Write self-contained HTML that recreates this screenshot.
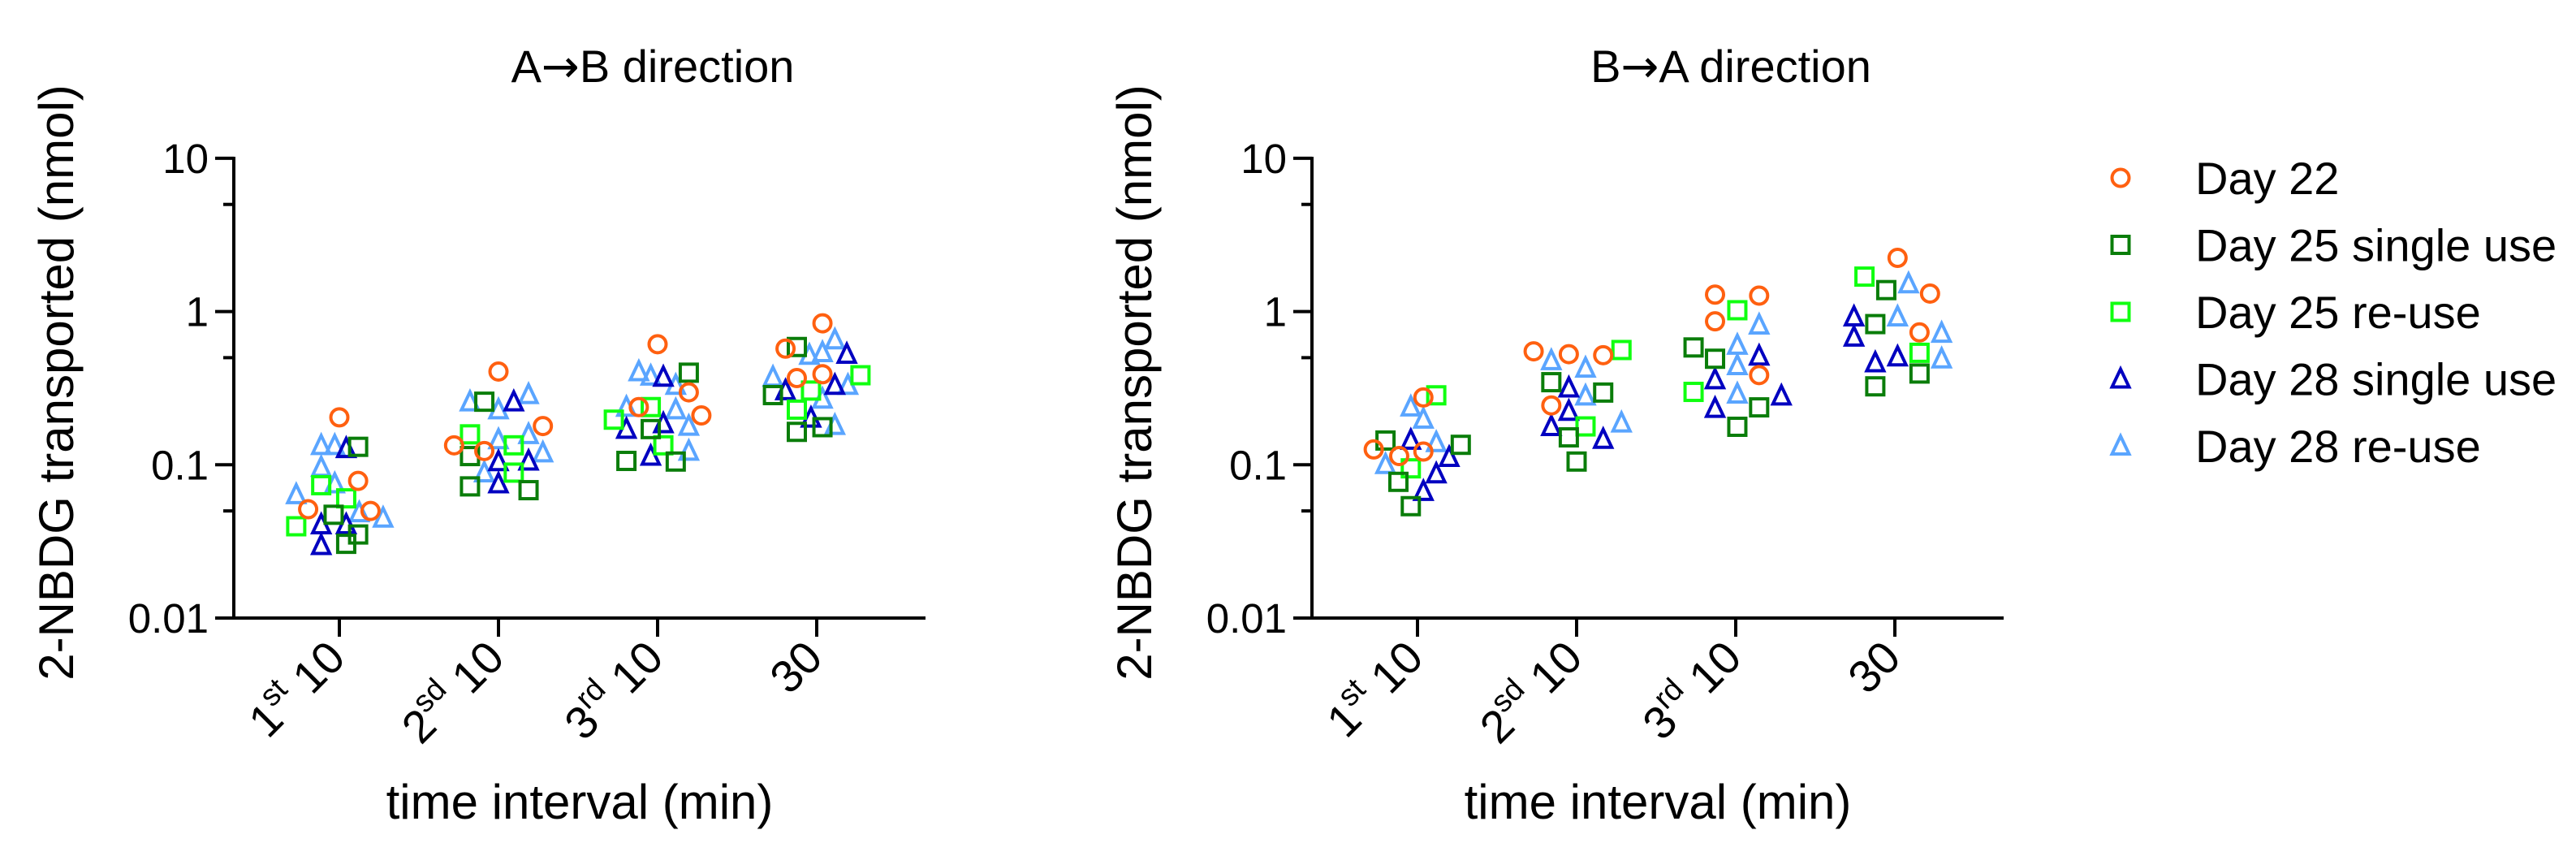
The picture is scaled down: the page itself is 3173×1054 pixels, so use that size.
<!DOCTYPE html>
<html><head><meta charset="utf-8"><style>
html,body{margin:0;padding:0;background:#fff;}
svg{display:block;font-family:"Liberation Sans",Arial,sans-serif;}
</style></head><body>
<svg id="chart" width="3173" height="1054" viewBox="0 0 3173 1054" xmlns="http://www.w3.org/2000/svg"></svg>
<script>
const categories = ['1st 10','2sd 10','3rd 10','30'];
const catBase = ['1','2','3','30'];
const catSup = ['st','sd','rd',''];
const seriesNames = ['Day 22','Day 25 single use','Day 25 re-use','Day 28 single use','Day 28 re-use'];
const seriesColors = ['#ff6010','#0a7d0a','#10ff10','#0000c0','#5aa5ff'];
const seriesShapes = ['circle','square','square','triangle','triangle'];
const yTicks = [10,1,0.1,0.01];
const yTickLabels = ['10','1','0.1','0.01'];

// A->B values (per category)
const abDay22 = [[0.204,0.0513,0.0785,0.050],[0.406,0.134,0.123,0.179],[0.612,0.238,0.297,0.210],[0.838,0.573,0.368,0.390]];
const abDay25s = [[0.131,0.0472,0.0305,0.0351],[0.258,0.114,0.0723,0.0683],[0.399,0.171,0.106,0.105],[0.587,0.285,0.164,0.176]];
const abDay25r = [[0.0736,0.0604,0.0397],[0.158,0.134,0.0889],[0.197,0.238,0.134],[0.384,0.305,0.229]];
const abDay28s = [[0.128,0.0407,0.0407,0.0298],[0.258,0.105,0.0753,0.106],[0.374,0.171,0.186,0.114],[0.528,0.305,0.331,0.202]];
const abDay28r = [[0.134,0.134,0.0964,0.064,0.0753,0.0488,0.045],[0.258,0.229,0.288,0.146,0.158,0.120,0.0889],[0.406,0.380,0.331,0.238,0.229,0.179,0.123],[0.655,0.541,0.520,0.374,0.331,0.269,0.181]];
// A->B jitter (fraction of category spacing)
const abJit22 = [[0,-0.196,0.118,0.196],[0,-0.279,-0.089,0.279],[0,-0.118,0.196,0.275],[0.036,-0.196,-0.125,0.036]];
const abJit25s = [[0.118,-0.036,0.043,0.118],[-0.089,-0.179,-0.179,0.189],[0.196,-0.043,-0.196,0.114],[-0.125,-0.275,-0.125,0.036]];
const abJit25r = [[-0.114,0.043,-0.271],[-0.179,0.096,0.096],[-0.275,-0.043,0.036],[0.275,-0.036,-0.125]];
const abJit28s = [[0.043,-0.114,0.043,-0.114],[0.096,0,0,0.189],[0.036,-0.196,0.036,-0.043],[0.189,-0.196,0.114,-0.036]];
const abJit28r = [[-0.114,-0.029,-0.114,-0.271,-0.029,0.125,0.275],[-0.179,0,0.189,0,0.189,0.279,-0.089],[-0.118,-0.043,0.114,-0.196,0.114,0.196,0.196],[0.114,0.036,-0.046,-0.275,0.196,0.036,0.114]];

// B->A values
const baDay22 = [[0.275,0.126,0.114,0.122],[0.550,0.527,0.519,0.244],[1.29,1.27,0.863,0.385],[2.24,1.31,0.731]];
const baDay25s = [[0.144,0.135,0.0774,0.0537],[0.346,0.296,0.151,0.105],[0.583,0.492,0.237,0.177],[1.38,0.828,0.394,0.325]];
const baDay25r = [[0.284,0.0948],[0.561,0.178],[1.02,0.299],[1.69,0.538]];
const baDay28s = [[0.145,0.112,0.0875,0.0672],[0.318,0.224,0.178,0.147],[0.513,0.360,0.234,0.282],[0.925,0.683,0.507,0.464]];
const baDay28r = [[0.239,0.199,0.140,0.1007],[0.479,0.428,0.282,0.188],[0.819,0.604,0.445,0.290],[1.52,0.925,0.724,0.492]];
const baJit22 = [[0.037,-0.275,-0.115,0.037],[-0.270,-0.049,0.167,-0.159],[-0.130,0.147,-0.130,0.147],[0.017,0.221,0.155]];
const baJit25s = [[-0.201,0.272,-0.120,-0.042],[-0.159,0.167,-0.049,0],[-0.265,-0.130,0.147,0.010],[-0.054,-0.123,0.155,-0.123]];
const baJit25r = [[0.118,-0.042],[0.282,0.056],[0.010,-0.265],[-0.191,0.155]];
const baJit28s = [[-0.042,0.199,0.118,0.037],[-0.049,-0.049,-0.159,0.167],[0.147,-0.130,-0.130,0.287],[-0.257,-0.257,0.017,-0.123]];
const baJit28r = [[-0.042,0.037,0.118,-0.201],[-0.159,0.056,0.056,0.282],[0.147,0.010,0.010,0.010],[0.086,0.017,0.294,0.294]];

const NS='http://www.w3.org/2000/svg';
const svg=document.getElementById('chart');
function mk(tag,attrs,parent){const e=document.createElementNS(NS,tag);for(const k in attrs)e.setAttribute(k,attrs[k]);(parent||svg).appendChild(e);return e;}

const yTop=195, decade=188.7, yBottom=761, catStep=196;
function yScale(v){return yBottom-(Math.log10(v)+2)*decade;}

function drawMarker(g,shape,color,cx,cy){
  let m;
  if(shape==='circle'){m=mk('circle',{cx:cx,cy:cy,r:10.5,fill:'none',stroke:color,'stroke-width':4},g);}
  else if(shape==='square'){m=mk('rect',{x:cx-10.5,y:cy-10.5,width:21,height:21,fill:'none',stroke:color,'stroke-width':4},g);}
  else{m=mk('polygon',{points:(cx)+','+(cy-12)+' '+(cx+10.5)+','+(cy+10)+' '+(cx-10.5)+','+(cy+10),fill:'none',stroke:color,'stroke-width':4,'stroke-linejoin':'miter'},g);}
  return m;
}

function drawPanel(ox,titleA,titleB,vals,jits,key){
  const g=mk('g',{});
  
  
  const axX=ox, axEnd=ox+852;
  const xScale=(i)=>ox+130+i*catStep;
  // title
  const t=mk('text',{x:ox+516,y:101,'font-size':56,'text-anchor':'middle',fill:'#000'},g);
  const ta=mk('tspan',{},t); ta.textContent=titleA;
  const tb=mk('tspan',{'font-family':'DejaVu Sans, sans-serif','font-size':56},t); tb.textContent='\u2192';
  const tc=mk('tspan',{},t); tc.textContent=titleB;
  
  
  // y axis
  const ya=mk('line',{x1:axX,y1:yTop-2,x2:axX,y2:yBottom+2,stroke:'#000','stroke-width':4},g);
  
  
  yTicks.forEach((v,i)=>{
    const y=yScale(v);
    mk('line',{x1:axX-23,y1:y,x2:axX,y2:y,stroke:'#000','stroke-width':4},g);
    const lb=mk('text',{x:axX-31,y:y+18,'font-size':51,'text-anchor':'end',fill:'#000'},g);
    lb.textContent=yTickLabels[i];
    
    
    if(i<yTicks.length-1){
      const ym=yScale(v/2);
      mk('line',{x1:axX-13,y1:ym,x2:axX,y2:ym,stroke:'#000','stroke-width':4},g);
    }
  });
  const yt=mk('text',{transform:'translate('+(ox-198)+',471) rotate(-90)','font-size':60,'text-anchor':'middle',fill:'#000'},g);
  yt.textContent='2-NBDG transported (nmol)';
  
  
  // x axis
  const xa=mk('line',{x1:axX-23,y1:yBottom,x2:axEnd,y2:yBottom,stroke:'#000','stroke-width':4},g);
  
  
  categories.forEach((c,i)=>{
    const x=xScale(i);
    mk('line',{x1:x,y1:yBottom,x2:x,y2:yBottom+23,stroke:'#000','stroke-width':4},g);
    const lb=mk('text',{transform:'translate('+(x+10)+','+(yBottom+52)+') rotate(-45)','font-size':56,'text-anchor':'end',fill:'#000'},g);
    const t1=mk('tspan',{},lb); t1.textContent=catBase[i];
    if(catSup[i]){const t2=mk('tspan',{'font-size':38,dy:-24},lb); t2.textContent=catSup[i];
      const t3=mk('tspan',{dy:24},lb); t3.textContent=' 10';}
    
    
  });
  const xt=mk('text',{x:ox+426,y:1008,'font-size':60,'text-anchor':'middle',fill:'#000'},g);
  xt.textContent='time interval (min)';
  
  
  // points (drawn last series first so Day 22 is on top)
  for(let s=vals.length-1;s>=0;s--){
    const sg=mk('g',{},g);
    
    
    vals[s].forEach((arr,ci)=>{
      arr.forEach((v,k)=>{
        const m=drawMarker(sg,seriesShapes[s],seriesColors[s],xScale(ci)+jits[s][ci][k]*catStep,yScale(v));
        
        
      });
    });
  }
}

drawPanel(288,'A','B direction',[abDay22,abDay25s,abDay25r,abDay28s,abDay28r],[abJit22,abJit25s,abJit25r,abJit28s,abJit28r],'ab');
drawPanel(1616,'B','A direction',[baDay22,baDay25s,baDay25r,baDay28s,baDay28r],[baJit22,baJit25s,baJit25r,baJit28s,baJit28r],'ba');

// legend
const lg=mk('g',{});


seriesNames.forEach((n,i)=>{
  const y=219+i*82.5;
  const eg=mk('g',{},lg);
  
  
  drawMarker(eg,seriesShapes[i],seriesColors[i],2612,y);
  const t=mk('text',{x:2704,y:y+20,'font-size':56,fill:'#000'},eg);
  t.textContent=n;
});
</script>
</body></html>
